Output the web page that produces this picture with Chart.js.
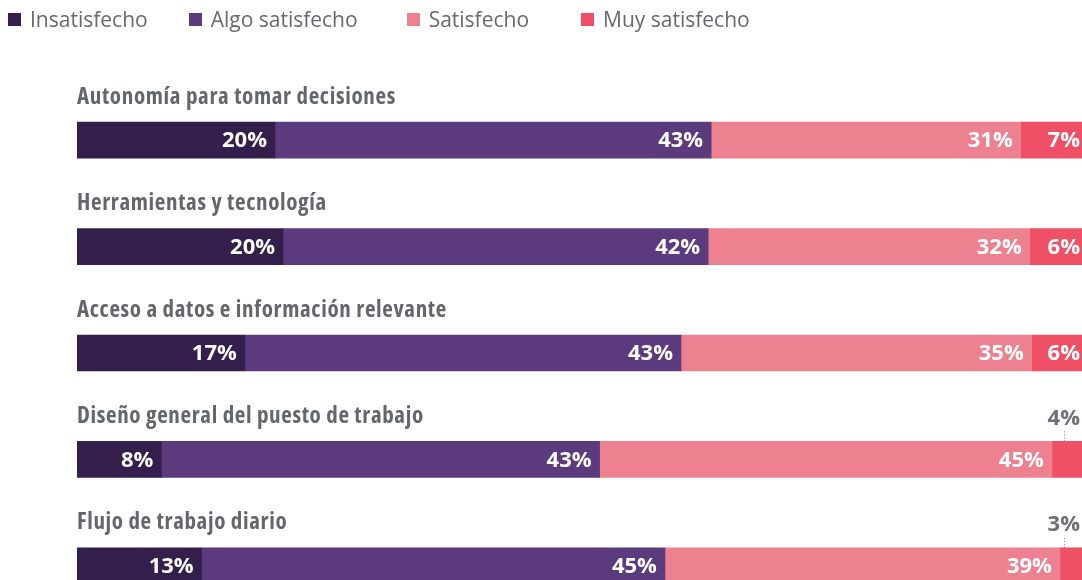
<!DOCTYPE html>
<html lang="es">
<head>
<meta charset="utf-8">
<title>Satisfacción</title>
<script src="https://cdn.jsdelivr.net/npm/chart.js@4"></script>
<style>
  html, body { margin: 0; padding: 0; background: #fff; overflow: hidden; }
  #wrap { position: relative; width: 1082px; height: 640px; }
  #legend { position: absolute; top: 5px; left: 8px; display: flex; font-family: 'Open Sans', sans-serif; font-size: 21px; color: #666a6f; }
  #legend .item { display: flex; align-items: center; }
  #legend .item:nth-child(1) { margin-right: 41px; }
  #legend .item:nth-child(2) { margin-right: 49px; }
  #legend .item:nth-child(3) { margin-right: 52px; }
  #legend .box { width: 13px; height: 13px; margin-right: 9px; }
</style>
</head>
<body>
<div id="wrap">
  <div id="legend"></div>
  <canvas id="satisfaccionChart"></canvas>
</div>
<script>
const categories = [
    'Autonomía para tomar decisiones',
    'Herramientas y tecnología',
    'Acceso a datos e información relevante',
    'Diseño general del puesto de trabajo',
    'Flujo de trabajo diario'
];
const seriesNames = ['Insatisfecho', 'Algo satisfecho', 'Satisfecho', 'Muy satisfecho'];
const seriesColors = ['#341e4c', '#5b3a7e', '#ee8190', '#ef5066'];

// values
const insatisfecho = [19.7, 20.5, 16.7, 8.4, 12.4];
const algoSatisfecho = [43.4, 42.3, 43.4, 43.6, 46.1];
const satisfecho = [30.8, 32.0, 34.9, 45.0, 39.3];
const muySatisfecho = [6.1, 5.2, 5.0, 3.1, 2.2];

// percentages as printed on the bars
const insatisfechoLbl = [20, 20, 17, 8, 13];
const algoSatisfechoLbl = [43, 42, 43, 43, 45];
const satisfechoLbl = [31, 32, 35, 45, 39];
const muySatisfechoLbl = [7, 6, 6, 4, 3];

const seriesValues = [insatisfecho, algoSatisfecho, satisfecho, muySatisfecho];
const seriesLabels = [insatisfechoLbl, algoSatisfechoLbl, satisfechoLbl, muySatisfechoLbl];

// html legend
const legendEl = document.getElementById('legend');
seriesNames.forEach((name, i) => {
    const item = document.createElement('div');
    item.className = 'item';
    const box = document.createElement('span');
    box.className = 'box';
    box.style.background = seriesColors[i];
    const txt = document.createElement('span');
    txt.textContent = name;
    item.appendChild(box);
    item.appendChild(txt);
    legendEl.appendChild(item);
});

let catFont = null;
function setCategoryFont(ctx) {
    if (!catFont) {
        ctx.save();
        ctx.font = "bold 23px 'Open Sans'";
        ctx.fontStretch = 'normal';
        const w0 = ctx.measureText(categories[0]).width;
        ctx.fontStretch = 'condensed';
        const w1 = ctx.measureText(categories[0]).width;
        ctx.restore();
        if (w1 < w0 * 0.97) {
            catFont = { font: "bold 23px 'Open Sans'", stretch: 'condensed', spacing: '0.65px' };
        } else {
            catFont = { font: "bold 22px 'Liberation Sans Narrow'", stretch: 'normal', spacing: '0px' };
        }
    }
    ctx.font = catFont.font;
    ctx.fontStretch = catFont.stretch;
    ctx.letterSpacing = catFont.spacing;
}

const barLabels = {
    id: 'barLabels',
    afterDatasetsDraw(chart) {
        const ctx = chart.ctx;
        const area = chart.chartArea;
        ctx.save();

        // category titles above each bar
        const first = chart.getDatasetMeta(0);
        setCategoryFont(ctx);
        ctx.fillStyle = '#63666b';
        ctx.textAlign = 'left';
        ctx.textBaseline = 'middle';
        first.data.forEach((bar, i) => {
            const top = bar.y - bar.height / 2;
            ctx.fillText(chart.data.labels[i], area.left, top - 25);
        });

        ctx.fontStretch = 'normal';
        ctx.letterSpacing = '0px';
        ctx.font = "bold 22px 'Open Sans'";
        chart.data.datasets.forEach((ds, di) => {
            const meta = chart.getDatasetMeta(di);
            meta.data.forEach((bar, i) => {
                const text = seriesLabels[di][i] + '%';
                const w = bar.x - bar.base;
                const top = bar.y - bar.height / 2;
                if (w >= 40) {
                    const pad = bar.x >= area.right - 1 ? 2 : 8;
                    ctx.fillStyle = '#ffffff';
                    ctx.textAlign = 'right';
                    ctx.textBaseline = 'middle';
                    ctx.fillText(text, bar.x - pad, bar.y + 1);
                } else {
                    // small segment: label above with a dotted leader
                    const tw = ctx.measureText(text).width;
                    const right = area.right - 2;
                    const cx = right - tw / 2;
                    ctx.fillStyle = '#6d7075';
                    ctx.textAlign = 'right';
                    ctx.textBaseline = 'middle';
                    ctx.fillText(text, right, top - 23);
                    ctx.strokeStyle = '#777';
                    ctx.lineWidth = 1;
                    ctx.setLineDash([1, 2]);
                    ctx.beginPath();
                    ctx.moveTo(Math.round(cx) + 0.5, top - 10);
                    ctx.lineTo(Math.round(cx) + 0.5, top);
                    ctx.stroke();
                    ctx.setLineDash([]);
                }
            });
        });
        ctx.restore();
    }
};

const data = {
    labels: categories,
    datasets: seriesNames.map((name, i) => ({
        label: name,
        data: seriesValues[i],
        backgroundColor: seriesColors[i],
        borderWidth: 0,
        barThickness: 36
    }))
};

const config = {
    type: 'bar',
    data: data,
    options: {
        indexAxis: 'y',
        responsive: true,
        maintainAspectRatio: false,
        animation: false,
        layout: {
            padding: { top: 87, bottom: 21, left: 77, right: 0 }
        },
        plugins: {
            legend: { display: false },
            tooltip: { enabled: false }
        },
        scales: {
            x: {
                stacked: true,
                display: false,
                min: 0,
                max: 100
            },
            y: {
                stacked: true,
                display: false
            }
        }
    },
    plugins: [barLabels]
};

const satisfaccionChart = new Chart(
    document.getElementById('satisfaccionChart'),
    config
);
</script>
</body>
</html>
